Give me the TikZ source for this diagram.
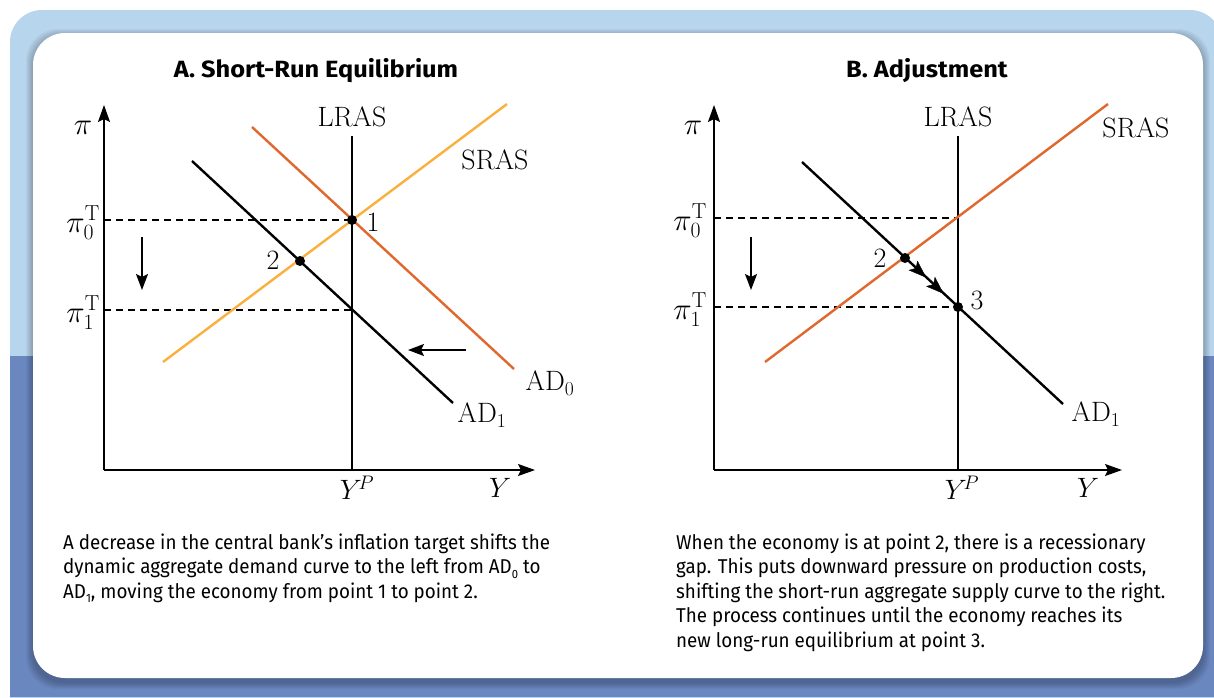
\RequirePackage{fix-cm}
\documentclass[tikz,border=0pt]{standalone}
\usepackage{fontspec}
\newfontfamily\capfont{Fira Sans}[FakeStretch=0.94]
\newfontfamily\titlefont{Fira Sans}[FakeStretch=1.08]
\usetikzlibrary{arrows.meta,decorations.markings}
\definecolor{lightbg}{HTML}{B8D5EE}
\definecolor{darkbg}{HTML}{6A87C0}
\definecolor{sraslight}{HTML}{FBB03B}
\definecolor{adorange}{HTML}{E0682C}
\newcommand\capsub[1]{\raisebox{-4.5pt}{\fontsize{12}{12}\selectfont #1}}
\tikzset{
  axis/.style={line width=1.6pt, -{Stealth[length=17pt,width=12pt,inset=3pt]}},
  curve/.style={line width=2.4pt},
  dashline/.style={line width=1.2pt, dash pattern=on 7pt off 5pt},
  dot/.style={circle, fill=black, inner sep=0pt, minimum size=10pt},
  lbl/.style={font=\fontsize{28}{32}\selectfont, inner sep=0pt},
  pilbl/.style={font=\fontsize{31}{34}\selectfont, inner sep=0pt},
  shiftarrow/.style={line width=1.6pt, -{Stealth[length=16pt,width=12pt,inset=3pt]}},
  paneltitle/.style={font=\titlefont\bfseries\fontsize{23.5}{27}\selectfont, inner sep=0pt},
  captext/.style={font=\capfont\fontsize{20}{24}\selectfont, anchor=base west, inner sep=0pt},
  midarrows/.style={decoration={markings,
      mark=at position 0.40 with {\arrow{Stealth[length=18pt,width=13pt,inset=4pt]}},
      mark=at position 0.73 with {\arrow{Stealth[length=18pt,width=13pt,inset=4pt]}}},
    decorate}
}
\begin{document}
\begin{tikzpicture}[x=1pt,y=-1pt]
\useasboundingbox (0,0) rectangle (1214,697);
% background
\begin{scope}
  \clip (0,0) rectangle (1214,697);
  \fill[lightbg, rounded corners=32pt] (10,10) rectangle (1222,760);
  \clip[rounded corners=32pt] (10,10) rectangle (1222,760);
  \fill[darkbg] (0,356) rectangle (1214,697);
  \foreach \i in {1,...,7}
    \fill[black, opacity=0.035, rounded corners=32pt] ({33-\i},{36-\i}) rectangle ({1203+\i},{682+\i});
\end{scope}
\fill[white, rounded corners=32pt] (33,33) rectangle (1203,678);

% ================= Panel A =================
\node[paneltitle] (Atitle) at (316,71) {A. Short-Run Equilibrium};
\coordinate (Ao) at (104,470);
\coordinate (Ayt) at (104,105);
\coordinate (Axt) at (535,470);
\coordinate (A1) at (352,220);
\coordinate (A1b) at (352,310);
\coordinate (ALtop) at (352,136);
\coordinate (ASa) at (163,362);
\coordinate (ASb) at (507,104);
\coordinate (AD0a) at (252,127);
\coordinate (AD0b) at (514,369);
\coordinate (AD1a) at (192,161);
\coordinate (AD1b) at (453,403);
\coordinate (A2) at (300,261);
\coordinate (Ala) at (466,350);
\coordinate (Alb) at (408,350);
\coordinate (Ada) at (142,237);
\coordinate (Adb) at (142,290);

\draw[dashline] (Ao |- A1) -- (A1);
\draw[dashline] (Ao |- A1b) -- (A1b);
\draw[curve] (ALtop) -- (ALtop |- Ao);
\draw[curve, adorange] (AD0a) -- (AD0b);
\draw[curve, sraslight] (ASa) -- (ASb);
\draw[curve] (AD1a) -- (AD1b);
\draw[axis] (Ao) -- (Ayt);
\draw[axis] (Ao) -- (Axt);
\draw[shiftarrow] (Ala) -- (Alb);
\draw[shiftarrow] (Ada) -- (Adb);
\node[dot] (Ap1) at (A1) {};
\node[dot] (Ap2) at (A2) {};

\node[pilbl] (Api) at (83,128) {$\pi$};
\node[pilbl, anchor=east] (Api0) at (100,223) {$\pi^{\mathrm{T}}_{0}$};
\node[pilbl, anchor=east] (Api1) at (100,313) {$\pi^{\mathrm{T}}_{1}$};
\node[lbl] (ALRAS) at (352,117) {LRAS};
\node[lbl] (ASRAS) at (495,160) {SRAS};
\node[lbl] (AAD0) at (550,383) {AD$_0$};
\node[lbl] (AAD1) at (482,415) {AD$_1$};
\node[lbl] (An1) at (373,222) {1};
\node[lbl] (An2) at (273,260) {2};
\node[lbl] (AYP) at (357,488) {$Y^{\!P}$};
\node[lbl] (AY) at (500,488) {$Y$};

\node[captext] (Ac1) at (63,549) {A decrease in the central bank’s inflation target shifts the};
\node[captext] (Ac2) at (63,573.5) {dynamic aggregate demand curve to the left from AD\capsub{0} to};
\node[captext] (Ac3) at (63,598) {AD\capsub{1}, moving the economy from point 1 to point 2.};

% ================= Panel B =================
\node[paneltitle] (Btitle) at (927,71) {B. Adjustment};
\coordinate (Bo) at (714,470);
\coordinate (Byt) at (714,105);
\coordinate (Bxt) at (1122,470);
\coordinate (B0) at (958,218);
\coordinate (B3) at (958,307);
\coordinate (BLtop) at (958,136);
\coordinate (BSa) at (765,362);
\coordinate (BSb) at (1108,104);
\coordinate (BD1a) at (802,162);
\coordinate (BD1b) at (1063,404);
\coordinate (B2) at (905,258);
\coordinate (Bda) at (751,237);
\coordinate (Bdb) at (751,290);

\draw[dashline] (Bo |- B0) -- (B0);
\draw[dashline] (Bo |- B3) -- (B3);
\draw[curve] (BLtop) -- (BLtop |- Bo);
\draw[curve, adorange] (BSa) -- (BSb);
\draw[curve] (BD1a) -- (BD1b);
\path[midarrows] (B2) -- (B3);
\draw[axis] (Bo) -- (Byt);
\draw[axis] (Bo) -- (Bxt);
\draw[shiftarrow] (Bda) -- (Bdb);
\node[dot] (Bp2) at (B2) {};
\node[dot] (Bp3) at (B3) {};

\node[pilbl] (Bpi) at (693,128) {$\pi$};
\node[pilbl, anchor=east] (Bpi0) at (707,221) {$\pi^{\mathrm{T}}_{0}$};
\node[pilbl, anchor=east] (Bpi1) at (707,310) {$\pi^{\mathrm{T}}_{1}$};
\node[lbl] (BLRAS) at (958,117) {LRAS};
\node[lbl] (BSRAS) at (1136,128) {SRAS};
\node[lbl] (BAD1) at (1096,414) {AD$_1$};
\node[lbl] (Bn2) at (880,258) {2};
\node[lbl] (Bn3) at (977,300) {3};
\node[lbl] (BYP) at (962,488) {$Y^{\!P}$};
\node[lbl] (BY) at (1088,488) {$Y$};

\node[captext] (Bc1) at (676,549) {When the economy is at point 2, there is a recessionary};
\node[captext] (Bc2) at (676,573.5) {gap. This puts downward pressure on production costs,};
\node[captext] (Bc3) at (676,598) {shifting the short-run aggregate supply curve to the right.};
\node[captext] (Bc4) at (676,622.5) {The process continues until the economy reaches its};
\node[captext] (Bc5) at (676,647) {new long-run equilibrium at point 3.};
\end{tikzpicture}
\end{document}
